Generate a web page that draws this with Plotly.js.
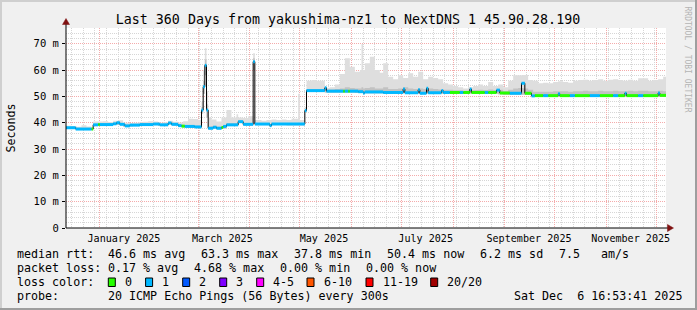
<!DOCTYPE html>
<html><head><meta charset="utf-8">
<script src="https://cdn.plot.ly/plotly-3.0.1.min.js"></script>
<style>html,body{margin:0;padding:0;background:#f0f0f0;}</style>
</head><body>
<div id="chart" style="width:697px;height:310px"></div>
<script>
// ---------- DATA ----------
const startTime = '2024-12-11 16:53:41';
const endTime = '2025-12-06 16:53:41';

// median RTT (ms), step series
const medDates = ['2024-12-11 16:53:41','2024-12-17 12:00','2024-12-27','2024-12-28','2024-12-31','2025-01-01','2025-01-09','2025-01-11','2025-01-13','2025-01-16',
'2025-01-19','2025-01-25','2025-02-02','2025-02-06','2025-02-11','2025-02-13','2025-02-17','2025-02-19','2025-02-21','2025-02-27',
'2025-03-03','2025-03-04','2025-03-05','2025-03-06','2025-03-07','2025-03-10','2025-03-12','2025-03-15','2025-03-16','2025-03-18',
'2025-03-25','2025-03-28','2025-04-03','2025-04-04','2025-04-13','2025-04-14','2025-05-04','2025-05-05','2025-05-16','2025-05-17',
'2025-05-27','2025-05-28','2025-05-30','2025-05-31','2025-06-05','2025-06-08','2025-06-09','2025-06-20','2025-07-02','2025-07-03',
'2025-07-11','2025-07-12','2025-07-16','2025-07-17','2025-07-25','2025-07-26','2025-07-30','2025-08-05','2025-08-07','2025-08-11',
'2025-08-12','2025-08-20','2025-08-22','2025-08-27','2025-08-29','2025-09-04','2025-09-11','2025-09-13','2025-09-17','2025-09-19',
'2025-09-24','2025-09-27','2025-10-03','2025-10-04','2025-10-10','2025-10-13','2025-10-22','2025-10-28','2025-11-05','2025-11-08',
'2025-11-12','2025-11-13','2025-11-20','2025-11-23','2025-12-02','2025-12-03'];
const medValues = [38.1,37.6,37.6,39.2,39.3,39.3,39.6,40.0,39.4,38.8,
39.1,39.3,39.5,39.2,39.9,39.4,38.9,38.7,38.6,38.4,
44.8,53.7,61.8,44.8,37.9,38.3,37.9,38.2,38.6,39.2,
40.4,39.4,63.2,39.5,38.9,39.5,44.6,52.2,53.3,52.0,
52.0,52.0,52.0,52.0,51.8,51.3,51.7,51.5,52.8,51.4,
52.5,51.2,53.1,51.4,52.2,51.5,51.5,51.5,51.5,52.8,
51.5,51.5,51.5,52.4,51.3,51.2,55.0,51.2,50.2,50.3,
50.3,50.3,51.0,50.3,50.3,50.3,50.3,50.3,50.3,50.3,
51.2,50.3,50.3,50.3,51.3,50.4];
// lost pings (of 20) for each median step
const medLoss = [1,1,0,1,0,1,1,1,1,1,
1,1,1,1,1,1,1,0,1,1,
1,1,1,1,1,1,1,0,1,1,
1,1,1,1,1,1,1,1,1,1,
0,1,0,1,1,1,1,1,1,1,
1,1,1,1,1,1,0,1,0,1,
0,1,0,1,0,1,1,0,1,0,
1,0,1,0,1,0,1,0,1,0,
1,0,1,0,1,0];

// smoke (ping spread, ms)
const smokeDates = ['2024-12-11 16:53:41','2024-12-15','2024-12-18','2024-12-21','2024-12-24','2024-12-27','2024-12-28','2024-12-31','2025-01-03','2025-01-06',
'2025-01-09','2025-01-12','2025-01-15','2025-01-18','2025-01-21','2025-01-24','2025-01-27','2025-01-30','2025-02-02','2025-02-05',
'2025-02-08','2025-02-11','2025-02-14','2025-02-17','2025-02-20','2025-02-23','2025-02-26','2025-03-01','2025-03-03','2025-03-04',
'2025-03-05','2025-03-06','2025-03-07','2025-03-09','2025-03-12','2025-03-15','2025-03-18','2025-03-21','2025-03-24','2025-03-25',
'2025-03-28','2025-03-31','2025-04-03','2025-04-04','2025-04-08','2025-04-11','2025-04-13','2025-04-14','2025-04-17','2025-04-20',
'2025-04-23','2025-04-26','2025-04-30','2025-05-01','2025-05-04','2025-05-05','2025-05-08','2025-05-11','2025-05-14','2025-05-16',
'2025-05-19','2025-05-22','2025-05-25','2025-05-28','2025-05-31','2025-06-03','2025-06-06','2025-06-07','2025-06-08','2025-06-09',
'2025-06-12','2025-06-15','2025-06-18','2025-06-20','2025-06-23','2025-06-26','2025-06-29','2025-07-02','2025-07-05','2025-07-08',
'2025-07-11','2025-07-14','2025-07-17','2025-07-20','2025-07-23','2025-07-26','2025-07-29','2025-08-01','2025-08-04','2025-08-07',
'2025-08-10','2025-08-13','2025-08-16','2025-08-19','2025-08-22','2025-08-25','2025-08-28','2025-08-31','2025-09-03','2025-09-06',
'2025-09-09','2025-09-12','2025-09-15','2025-09-18','2025-09-21','2025-09-24','2025-09-27','2025-09-30','2025-10-03','2025-10-06',
'2025-10-09','2025-10-12','2025-10-15','2025-10-18','2025-10-21','2025-10-24','2025-10-27','2025-10-30','2025-11-02','2025-11-05',
'2025-11-08','2025-11-11','2025-11-14','2025-11-17','2025-11-20','2025-11-23','2025-11-26','2025-11-29','2025-12-02','2025-12-05',
'2025-12-06 16:53:41'];
const smokeLo = [37.8,37.8,37.3,37.3,37.3,37.3,38.8,38.9,38.9,39.0,
39.2,39.2,38.5,38.7,38.8,38.9,38.9,39.0,39.1,38.8,
38.9,39.4,39.0,38.5,38.3,38.2,38.0,38.0,43.5,51.0,
58.0,42.0,37.5,37.9,37.5,37.8,38.8,38.8,38.8,40.0,
39.0,39.0,60.0,39.1,39.1,39.1,38.5,39.1,39.1,39.1,
39.0,39.0,39.0,39.0,44.0,51.8,51.8,51.8,51.8,51.5,
51.5,51.5,51.5,51.5,51.5,51.3,51.3,51.3,51.0,51.2,
51.2,51.2,51.2,51.0,51.0,51.0,51.0,51.2,51.0,51.0,
51.0,51.0,51.0,51.0,51.0,51.0,51.0,51.0,51.0,51.0,
51.0,51.0,51.0,51.0,51.0,51.0,50.8,50.6,50.6,50.6,
50.6,50.6,50.6,49.8,49.8,49.8,49.8,49.8,49.8,49.8,
49.8,49.8,49.8,49.8,49.8,49.8,49.8,49.8,49.8,49.8,
49.8,49.8,49.8,49.8,49.8,49.8,49.8,49.8,49.8,49.8,
49.8];
const smokeMid = [38.4,38.4,37.9,37.9,37.9,37.9,39.5,39.6,39.6,39.7,
39.9,39.9,39.2,39.4,39.5,39.6,39.7,39.8,39.8,39.5,
39.6,40.2,39.7,39.2,39.0,39.0,38.9,38.9,46.0,56.0,
64.0,47.0,38.5,38.8,38.5,38.8,39.8,39.8,39.8,40.8,
39.9,39.9,64.5,39.9,39.9,39.9,39.3,39.9,39.9,39.9,
39.9,39.9,40.0,39.9,45.0,52.8,52.8,52.8,52.8,52.6,
52.6,52.8,53.0,53.5,53.2,53.0,53.0,53.5,53.0,53.2,
53.5,53.0,53.0,53.5,52.8,52.8,53.0,53.5,53.0,52.8,
53.0,52.8,53.0,52.8,52.6,52.5,52.5,52.3,52.3,52.2,
52.3,52.4,52.5,52.4,52.6,52.4,52.5,52.0,52.5,53.0,
53.2,53.0,52.5,51.8,51.8,51.8,51.8,52.0,52.0,52.0,
51.8,52.0,52.0,52.2,52.0,52.0,52.2,52.0,52.0,52.2,
52.0,52.0,52.2,52.0,52.2,52.2,52.0,52.0,52.2,52.0,
52.0];
const smokeHi = [38.9,38.8,38.5,39.0,38.6,38.3,40.5,40.5,40.6,40.3,
40.8,40.9,40.0,39.9,40.0,40.2,40.4,40.6,40.5,40.0,
40.2,40.8,40.4,40.1,40.6,41.5,41.4,41.0,48.0,60.0,
68.3,52.0,42.0,41.2,40.5,42.0,44.8,42.0,43.2,42.0,
41.8,42.5,66.4,41.0,40.8,41.0,41.0,41.2,41.0,41.2,
41.0,41.5,51.0,41.0,46.0,56.0,56.2,56.0,56.0,53.3,
53.5,54.5,58.5,64.5,61.3,59.4,60.0,69.9,60.0,62.6,
65.1,60.0,59.0,62.6,57.5,56.5,58.0,57.0,58.8,57.5,
59.4,56.5,57.5,57.0,56.5,55.0,54.5,54.0,53.5,53.0,
53.5,54.0,54.5,54.0,55.5,54.0,54.5,53.5,56.0,58.0,
58.0,58.1,56.2,56.0,55.0,55.2,55.0,55.5,55.8,55.5,
55.2,56.0,56.2,56.3,56.0,56.2,56.5,56.0,56.3,56.5,
56.2,56.0,56.3,56.0,56.9,56.9,56.0,56.2,56.5,57.5,
57.5];

// axes
const majorGridDates = ['2025-01-01','2025-03-01','2025-04-01','2025-05-01','2025-06-01','2025-07-01','2025-08-01','2025-09-01','2025-10-01','2025-11-01','2025-12-01'];
const monthLabelDates = ['2025-01-15 12:00','2025-03-15 12:00','2025-05-15 12:00','2025-07-15 12:00','2025-09-15 12:00','2025-11-15 12:00'];
const monthLabels = ['January 2025','March 2025','May 2025','July 2025','September 2025','November 2025'];
const yTickVals = [0,10,20,30,40,50,60,70];
const yTickText = ['0','10 m','20 m','30 m','40 m','50 m','60 m','70 m'];

// legend texts
const titleText = 'Last 360 Days from yakushima-nz1 to NextDNS 1 45.90.28.190';
const rowLabels = ['median rtt:','packet loss:','loss color:','probe:'];
const rttStats = ['46.6 ms avg','63.3 ms max','37.8 ms min','50.4 ms now','6.2 ms sd','7.5','am/s'];
const lossStats = ['0.17 % avg','4.68 % max','0.00 % min','0.00 % now'];
const lossLabels = ['0','1','2','3','4-5','6-10','11-19','20/20'];
const lossColors = ['#26ff00','#00b8ff','#0059ff','#7e00ff','#ff00ff','#ff5500','#ff0000','#a00000'];
const probeText = '20 ICMP Echo Pings (56 Bytes) every 300s';
const stampText = 'Sat Dec  6 16:53:41 2025';
const sideText = 'RRDTOOL / TOBI OETIKER';

// ---------- GEOMETRY ----------
const L = 66, T = 28, W = 600, H = 200;
const px = p => (p - L) / W;
const py = p => (T + H - p) / H;
const FONT = 'DejaVu Sans Mono';
const nb = s => s.replace(/ /g, '\u00a0');

// ---------- TRACES ----------
const traces = [];
const sx = smokeDates;
traces.push({x: sx, y: smokeLo, type: 'scatter', mode: 'lines', line: {width: 0, shape: 'hv'}, hoverinfo: 'skip'});
traces.push({x: sx, y: smokeHi, type: 'scatter', mode: 'lines', line: {width: 0, shape: 'hv'}, fill: 'tonexty', fillcolor: '#dedede', hoverinfo: 'skip'});
traces.push({x: sx, y: smokeLo, type: 'scatter', mode: 'lines', line: {width: 0, shape: 'hv'}, hoverinfo: 'skip'});
traces.push({x: sx, y: smokeMid, type: 'scatter', mode: 'lines', line: {width: 0, shape: 'hv'}, fill: 'tonexty', fillcolor: '#c2c2c2', hoverinfo: 'skip'});

// black median line
traces.push({x: medDates.concat([endTime]), y: medValues.concat([medValues[medValues.length - 1]]),
  type: 'scatter', mode: 'lines', line: {color: '#000000', width: 1, shape: 'hv'}, hoverinfo: 'skip'});

// loss coloured median bands
[0, 1].forEach(lv => {
  const xs = [], ys = [];
  for (let i = 0; i < medDates.length; i++) {
    if (medLoss[i] !== lv) continue;
    const next = i + 1 < medDates.length ? medDates[i + 1] : endTime;
    xs.push(medDates[i], next, null);
    ys.push(medValues[i], medValues[i], null);
  }
  traces.push({x: xs, y: ys, type: 'scatter', mode: 'lines', line: {color: lossColors[lv], width: 3}, connectgaps: false, hoverinfo: 'skip'});
});

// invisible trace for label axis
traces.push({x: monthLabelDates, y: monthLabelDates.map(() => null), xaxis: 'x2', type: 'scatter', mode: 'markers', hoverinfo: 'skip'});

// ---------- ANNOTATIONS ----------
const ann = [];
const txt = (s, x, y, opts) => Object.assign({text: nb(s), x: px(x - 1), y: py(y), xref: 'paper', yref: 'paper',
  xanchor: 'left', yanchor: 'middle', showarrow: false, font: {family: FONT, size: 11.66, color: '#000'}}, opts || {});
const rowY = [254.3, 268.3, 282.3, 296.3];
rowLabels.forEach((s, i) => ann.push(txt(s, 16, rowY[i])));
const rttX = [107.3, 200, 292.7, 386, 479.3, 558.3, 600];
rttStats.forEach((s, i) => ann.push(txt(s, rttX[i], rowY[0])));
const lossX = [107.3, 193.3, 279.3, 365.3];
lossStats.forEach((s, i) => ann.push(txt(s, lossX[i], rowY[1])));
const boxX = [108.3, 145.6, 182.7, 219.7, 256.7, 307, 366, 430.7];
lossLabels.forEach((s, i) => ann.push(txt(s, boxX[i] + 15.5, rowY[2])));
ann.push(txt(probeText, 107.3, rowY[3]));
ann.push(txt(stampText, 513.3, rowY[3]));
ann.push({text: 'Seconds', x: px(10.5), y: py(128), xref: 'paper', yref: 'paper', xanchor: 'center', yanchor: 'middle',
  showarrow: false, textangle: -90, font: {family: FONT, size: 11.66, color: '#000'}});
ann.push({text: nb(sideText), x: px(687.5), y: py(59), xref: 'paper', yref: 'paper', xanchor: 'center', yanchor: 'middle',
  showarrow: false, textangle: 90, font: {family: FONT, size: 8, color: '#b4b4b4'}});

// ---------- SHAPES ----------
const shapes = [];
boxX.forEach((bx, i) => shapes.push({type: 'rect', xref: 'paper', yref: 'paper', x0: px(bx), x1: px(bx + 7), y0: py(286.5), y1: py(278),
  fillcolor: lossColors[i], line: {color: '#000', width: 1}}));
// axis extensions + arrows
shapes.push({type: 'line', xref: 'paper', yref: 'paper', x0: px(66), x1: px(670), y0: py(228), y1: py(228), line: {color: '#000', width: 1}});
shapes.push({type: 'line', xref: 'paper', yref: 'paper', x0: px(66), x1: px(66), y0: py(228), y1: py(23), line: {color: '#000', width: 1}});
shapes.push({type: 'path', xref: 'paper', yref: 'paper', path: `M ${px(62.5)} ${py(24.5)} L ${px(66)} ${py(18.5)} L ${px(69.5)} ${py(24.5)} Z`,
  fillcolor: '#7f1010', line: {color: '#7f1010', width: 0.5}});
shapes.push({type: 'path', xref: 'paper', yref: 'paper', path: `M ${px(667.5)} ${py(224.5)} L ${px(673.5)} ${py(228)} L ${px(667.5)} ${py(231.5)} Z`,
  fillcolor: '#7f1010', line: {color: '#7f1010', width: 0.5}});
// image frame
shapes.push({type: 'line', xref: 'paper', yref: 'paper', x0: px(0), x1: px(697), y0: py(1), y1: py(1), line: {color: '#cfcfcf', width: 2}});
shapes.push({type: 'line', xref: 'paper', yref: 'paper', x0: px(1), x1: px(1), y0: py(0), y1: py(310), line: {color: '#cfcfcf', width: 2}});
shapes.push({type: 'line', xref: 'paper', yref: 'paper', x0: px(0), x1: px(697), y0: py(309), y1: py(309), line: {color: '#9e9e9e', width: 2}});
shapes.push({type: 'line', xref: 'paper', yref: 'paper', x0: px(696), x1: px(696), y0: py(0), y1: py(310), line: {color: '#9e9e9e', width: 2}});

// ---------- LAYOUT ----------
const layout = {
  width: 697, height: 310,
  margin: {l: L, r: 697 - L - W, t: T, b: 310 - T - H, pad: 0},
  paper_bgcolor: '#f0f0f0', plot_bgcolor: '#ffffff',
  showlegend: false,
  title: {text: titleText, x: 348 / 697, xref: 'container', xanchor: 'center', y: 1 - 19.5 / 310, yref: 'container', yanchor: 'middle',
    font: {family: FONT, size: 13.3, color: '#000'}},
  xaxis: {type: 'date', range: [startTime, endTime], tickmode: 'array', tickvals: majorGridDates, showticklabels: false,
    showgrid: true, gridcolor: '#f4abab', griddash: '1px,1px', gridwidth: 1, ticks: '', zeroline: false, showline: false,
    minor: {tickmode: 'linear', tick0: '2024-12-15', dtick: 7 * 86400000, showgrid: true, gridcolor: '#d6d6d6', griddash: '1px,1px', gridwidth: 1, ticks: ''},
    fixedrange: true},
  xaxis2: {type: 'date', overlaying: 'x', anchor: 'y', side: 'bottom', range: [startTime, endTime], tickmode: 'array',
    tickvals: monthLabelDates, ticktext: monthLabels, showgrid: false, ticks: '', zeroline: false, showline: false,
    tickfont: {family: FONT, size: 10.1, color: '#000'}, ticklabelstandoff: 3},
  yaxis: {range: [0, 76], tickmode: 'array', tickvals: yTickVals, ticktext: yTickText, showgrid: true, gridcolor: '#f4abab',
    griddash: '1px,1px', gridwidth: 1, zeroline: false, showline: false, ticks: 'outside', ticklen: 3, tickcolor: '#000', tickwidth: 1,
    tickfont: {family: FONT, size: 10.5, color: '#000'}, ticklabelstandoff: 1,
    minor: {tickmode: 'linear', tick0: 0, dtick: 2, showgrid: true, gridcolor: '#d6d6d6', griddash: '1px,1px', gridwidth: 1, ticks: ''},
    fixedrange: true},
  annotations: ann,
  shapes: shapes
};

Plotly.newPlot('chart', traces, layout, {staticPlot: true, displayModeBar: false});
</script>
</body></html>
